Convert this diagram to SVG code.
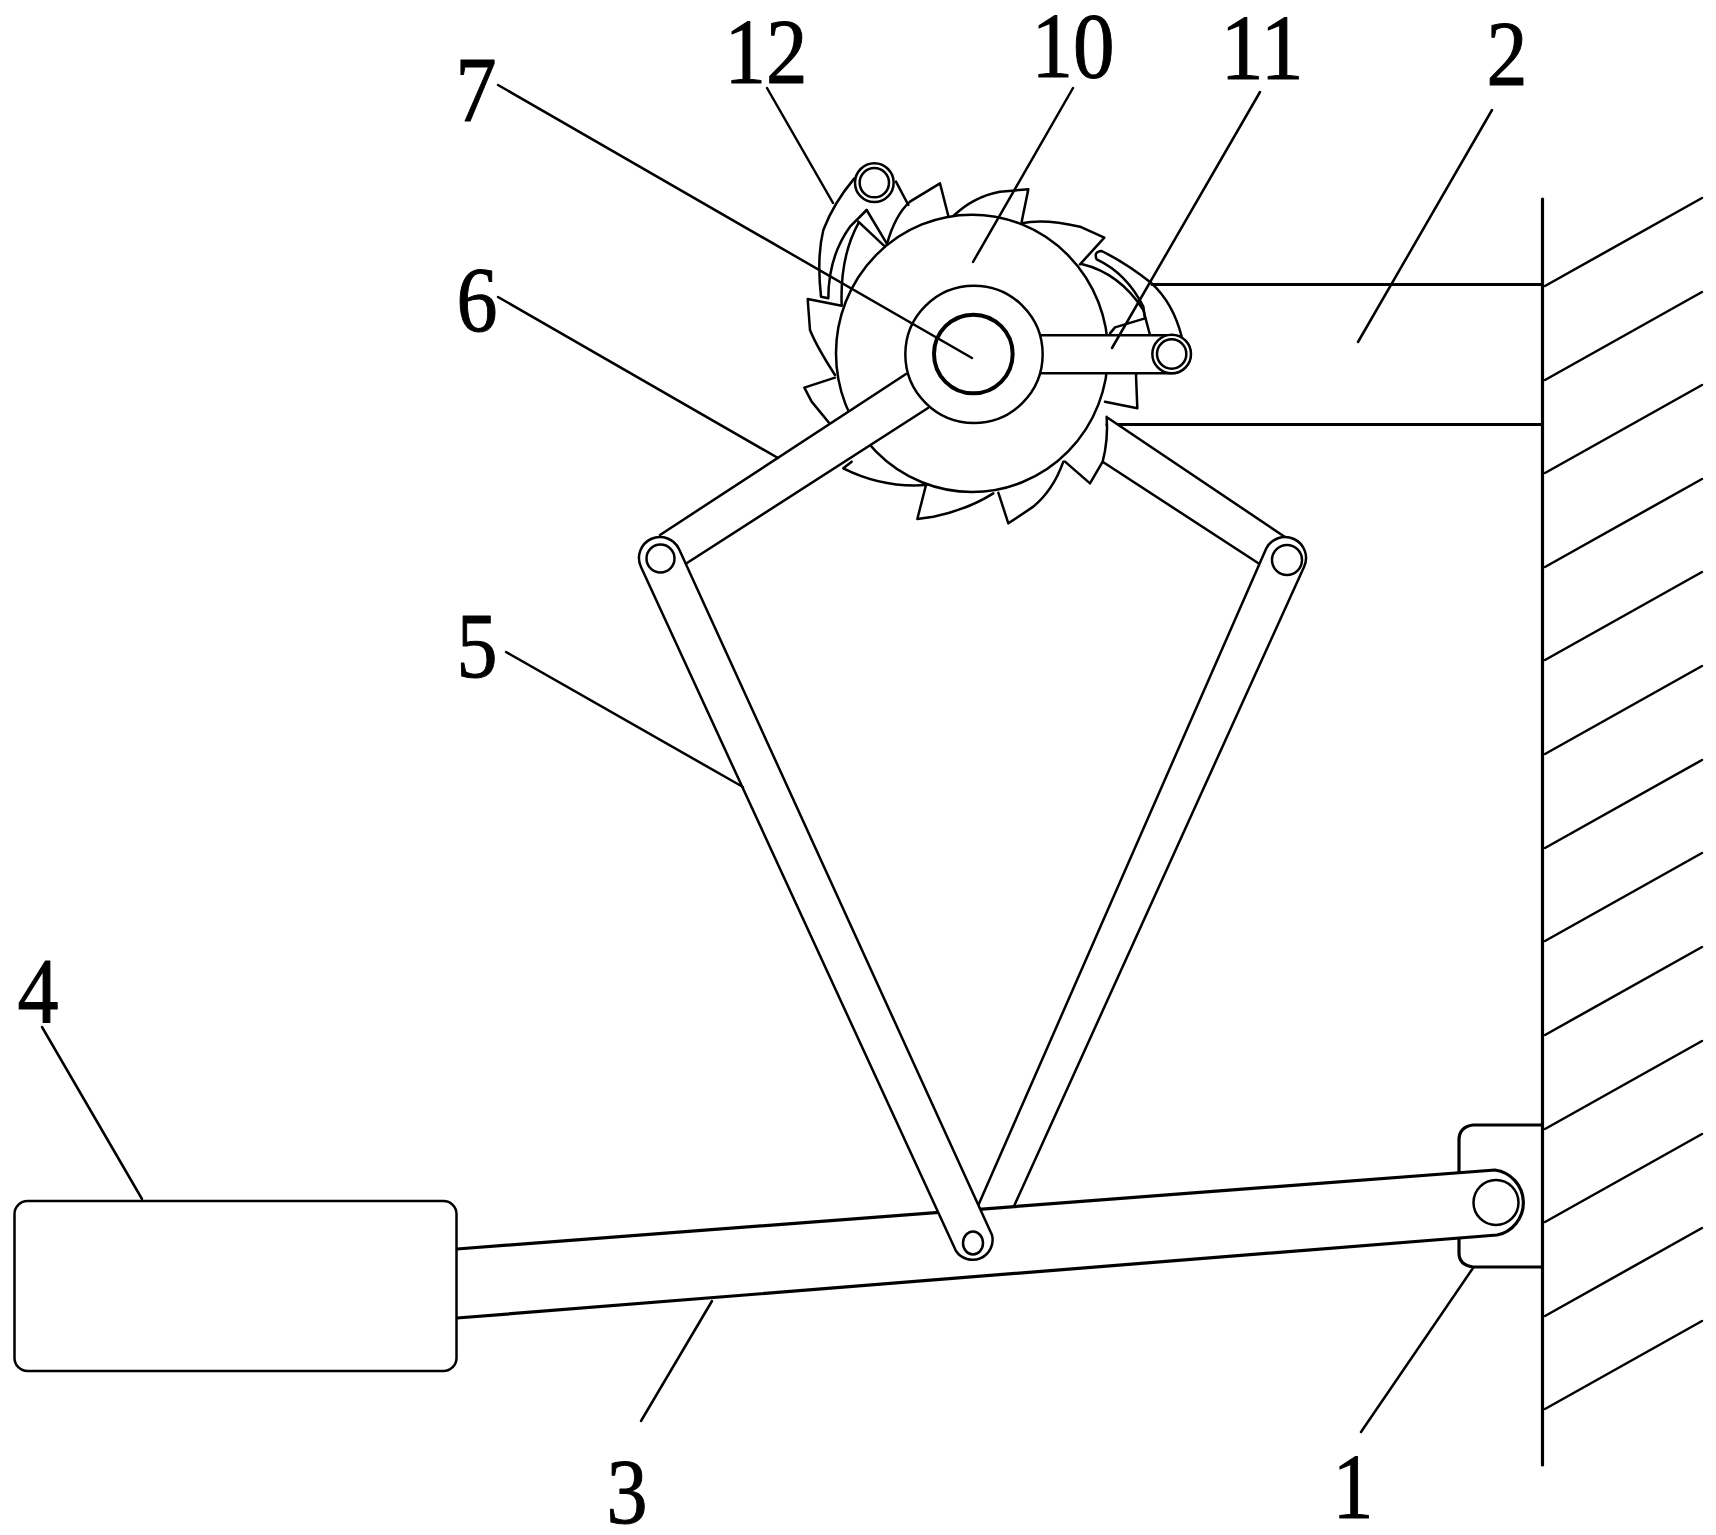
<svg xmlns="http://www.w3.org/2000/svg" width="1716" height="1535" viewBox="0 0 1716 1535">
<style>
svg{background:#fff}
g,path,line,circle,ellipse,rect{fill:none;stroke:#000;stroke-width:2.5;stroke-linecap:round;stroke-linejoin:round}
.w{fill:#fff}
.z{stroke-width:7.5}
.z path,.z circle,.z ellipse{stroke-width:7.5}
.z .hub{stroke-width:12}
.n{stroke-width:3.2}
text{font-family:"Liberation Serif","Times New Roman",serif;font-size:93px;fill:#000;stroke:#000;stroke-width:1;text-anchor:middle;lengthAdjust:spacingAndGlyphs}
</style>
<rect x="0" y="0" width="1716" height="1535" style="fill:#fff;stroke:none"/>
<g id="part-2">
<path class="n" d="M1152 284.5H1542M1107 424.5H1542"/>
</g>
<g id="part-1">
<path class="n w" d="M1542 1125H1473Q1459 1127 1459 1140V1253Q1459 1265 1473 1267H1542"/>
</g>
<g id="wall">
<line class="n" x1="1542.5" y1="199" x2="1542.5" y2="1465"/>
<path d="M1545 286L1702 198M1545 380L1702 292M1545 473L1702 385M1545 567L1702 479M1545 660L1702 572M1545 754L1702 666M1545 848L1702 760M1545 941L1702 853M1545 1035L1702 947M1545 1129L1702 1041M1545 1222L1702 1134M1545 1316L1702 1228M1545 1409L1702 1321"/>
</g>
<g id="right-arm">
<path class="w" d="M1108 418L1285 537L1258 563L1103 462Z" style="stroke:none"/>
<path d="M1108 418L1285 537M1103 462L1258 563"/>
</g>
<g id="right-link">
<path class="w" d="M974 1215L1266 549A21 21 0 0 1 1304 567L1010 1215"/>
<circle class="w" cx="1287" cy="560" r="15"/>
</g>
<g id="part-3">
<path class="n w" d="M457 1249L1495 1170A33 33 0 0 1 1497 1235L457 1318"/>
<circle cx="1496" cy="1202.5" r="22.5"/>
</g>
<g id="part-4">
<rect class="w" x="14.5" y="1201" width="442" height="170" rx="13"/>
</g>
<g id="gear" transform="translate(760 140) scale(0.33333)" class="z">
<path d="M380 315Q405 225 450 185L540 130L565 228"/>
<path d="M580 228Q640 170 720 155L805 148L785 245"/>
<path d="M785 250Q850 235 960 260L1033 293L960 373"/>
<path d="M965 372Q1080 400 1150 510L1170 585L1128 705L1132 805L1035 785"/>
<path d="M1040 830Q1045 900 1028 965L990 1030L915 965"/>
<path d="M910 965Q880 1050 820 1100L745 1150L715 1058"/>
<path d="M700 1060Q620 1110 520 1130L472 1137L498 1035"/>
<path d="M500 1035Q370 1045 250 985L275 965"/>
<path d="M210 852L155 785L133 743L225 713"/>
<path d="M225 705Q170 620 150 570L143 477L245 497"/>
<ellipse class="w" cx="636" cy="640" rx="408" ry="416"/>
</g>
<g id="part-6">
<path class="w" d="M660 535L906 374L928 408L687 563Z" style="stroke:none"/>
<path d="M660 535L906 374M687 563L928 408"/>
</g>
<g id="part-5">
<path class="w" d="M641 567A21 21 0 0 1 679 549L992 1235A20 20 0 0 1 956 1251Z"/>
<circle class="w" cx="660.5" cy="558.5" r="14"/>
<ellipse cx="973" cy="1243" rx="10" ry="11.5"/>
</g>
<g id="pawls" transform="translate(760 140) scale(0.33333)" class="z">
<path d="M283 115Q220 190 190 270Q170 350 183 470L205 475Q205 350 270 260L320 210"/>
<path d="M295 250Q240 350 245 495M295 245L375 320M320 210L380 310M408 125L445 195"/>
<path d="M1265 590Q1240 490 1175 430Q1100 370 1025 333Q1000 335 1010 358Q1100 400 1150 500L1155 535L1065 562L1050 580"/>
</g>
<g id="part-7-hub" transform="translate(760 140) scale(0.33333)" class="z">
<path class="w" d="M840 586H1235A57 57 0 0 1 1235 700H840"/>
<circle class="w" cx="642" cy="643" r="206"/>
<circle class="w hub" cx="640" cy="642" r="118"/>
<circle class="w" cx="1235" cy="642" r="58"/>
<circle cx="1235" cy="642" r="44"/>
<circle class="w" cx="343" cy="128" r="58"/>
<circle cx="343" cy="128" r="44"/>
</g>
<g id="connectors">
<path d="M498 85L972 358"/>
<path d="M767 88L833 203"/>
<path d="M1073 88L973 262"/>
<path d="M1260 92L1112 348"/>
<path d="M1492 110L1358 342"/>
<path d="M498 297L778 458"/>
<path d="M506 652L743 787"/>
<path d="M42 1027L142 1199"/>
<path d="M712 1301L641 1421"/>
<path d="M1473 1268L1361 1432"/>
</g>
<g id="labels">
<text x="476" y="121" textLength="41" lengthAdjust="spacingAndGlyphs">7</text>
<text x="766" y="83" textLength="83" lengthAdjust="spacingAndGlyphs">12</text>
<text x="1073" y="77" textLength="83" lengthAdjust="spacingAndGlyphs">10</text>
<text x="1262" y="79" textLength="83" lengthAdjust="spacingAndGlyphs">11</text>
<text x="1507" y="85" textLength="41" lengthAdjust="spacingAndGlyphs">2</text>
<text x="477" y="331" textLength="41" lengthAdjust="spacingAndGlyphs">6</text>
<text x="477" y="677" textLength="41" lengthAdjust="spacingAndGlyphs">5</text>
<text x="38" y="1022" textLength="41" lengthAdjust="spacingAndGlyphs">4</text>
<text x="627" y="1523" textLength="41" lengthAdjust="spacingAndGlyphs">3</text>
<text x="1353" y="1518" textLength="41" lengthAdjust="spacingAndGlyphs">1</text>
</g>
</svg>
